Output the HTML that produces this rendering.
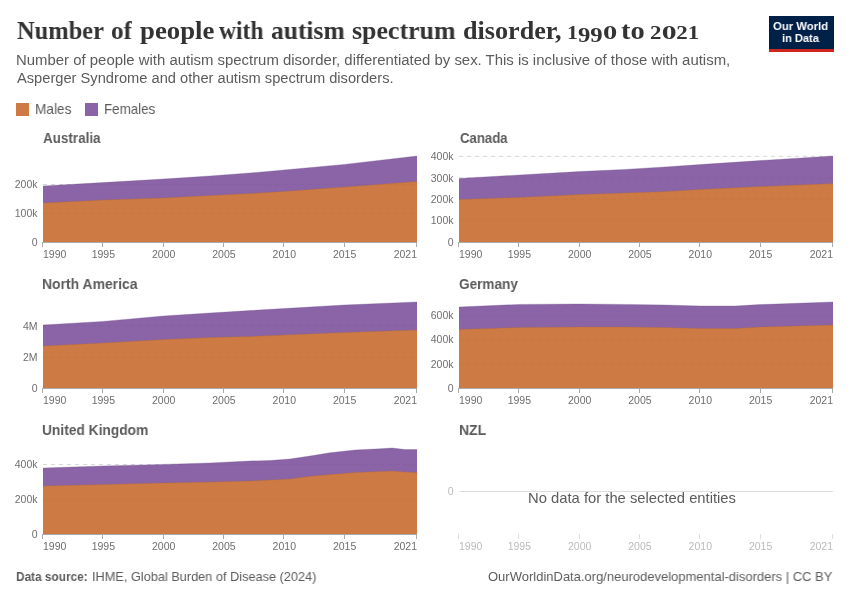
<!DOCTYPE html>
<html><head><meta charset="utf-8">
<style>
html,body{margin:0;padding:0;background:#fff;}
body{width:850px;height:600px;position:relative;overflow:hidden;font-family:"Liberation Sans",sans-serif;}
.abs{position:absolute;white-space:nowrap;transform-origin:0 0;will-change:transform;}
svg{position:absolute;left:0;top:0;will-change:transform;}
.title{font-family:"Liberation Serif",serif;font-weight:bold;font-size:26px;line-height:32px;color:#333333;}
.os{font-size:19.5px;}
.os9{font-size:22px;position:relative;top:3px;}
.os0{display:inline-block;font-size:19.5px;transform:scaleX(1.3);transform-origin:0 0;margin-right:2.9px;}
.sub{font-size:14px;line-height:18px;color:#5b5b5b;}
.leg{font-size:14.5px;line-height:16px;color:#5b5b5b;}
.sw{position:absolute;top:103px;width:13px;height:13px;}
#logo{left:769px;top:16px;width:65px;height:33px;background:#002147;border-bottom:3px solid #ce261e;color:#fff;font-weight:bold;font-size:11px;line-height:12px;text-align:center;}
.logot{font-size:11.8px;line-height:14px;color:#fff;font-weight:bold;}
.foot{font-size:13px;line-height:16px;color:#5b5b5b;}
.ax{font-family:"Liberation Sans",sans-serif;font-size:10.5px;fill:#6e6e6e;}
.ax.light{fill:#bbbbbb;}
.ft{font-size:15px;line-height:18px;font-weight:bold;color:#5b5b5b;}
.nd{font-size:14.2px;line-height:18px;color:#5b5b5b;}
</style></head>
<body>
<svg width="850" height="600" viewBox="0 0 850 600">
<line x1="43" y1="213" x2="417" y2="213" stroke="#dddddd" stroke-width="1" stroke-dasharray="4,4"/>
<line x1="43" y1="184.5" x2="417" y2="184.5" stroke="#dddddd" stroke-width="1" stroke-dasharray="4,4"/>
<line x1="459" y1="220.6" x2="833" y2="220.6" stroke="#dddddd" stroke-width="1" stroke-dasharray="4,4"/>
<line x1="459" y1="199.2" x2="833" y2="199.2" stroke="#dddddd" stroke-width="1" stroke-dasharray="4,4"/>
<line x1="459" y1="177.8" x2="833" y2="177.8" stroke="#dddddd" stroke-width="1" stroke-dasharray="4,4"/>
<line x1="459" y1="156.3" x2="833" y2="156.3" stroke="#dddddd" stroke-width="1" stroke-dasharray="4,4"/>
<line x1="43" y1="357" x2="417" y2="357" stroke="#dddddd" stroke-width="1" stroke-dasharray="4,4"/>
<line x1="43" y1="325.75" x2="417" y2="325.75" stroke="#dddddd" stroke-width="1" stroke-dasharray="4,4"/>
<line x1="459" y1="364" x2="833" y2="364" stroke="#dddddd" stroke-width="1" stroke-dasharray="4,4"/>
<line x1="459" y1="339.5" x2="833" y2="339.5" stroke="#dddddd" stroke-width="1" stroke-dasharray="4,4"/>
<line x1="459" y1="315.5" x2="833" y2="315.5" stroke="#dddddd" stroke-width="1" stroke-dasharray="4,4"/>
<line x1="43" y1="499.4" x2="417" y2="499.4" stroke="#dddddd" stroke-width="1" stroke-dasharray="4,4"/>
<line x1="43" y1="464.4" x2="417" y2="464.4" stroke="#dddddd" stroke-width="1" stroke-dasharray="4,4"/>
<polygon points="43,242 43,186 103,182.6 163.4,179 210,176 250,173 284,170 344.4,164.4 417,156 417,242" fill="#8a64a6"/>
<polygon points="43,242 43,203 103,200 163.4,198 210,195.6 250,193.6 284,191.4 344.4,187 417,181.6 417,242" fill="#cd7a45"/>
<line x1="43" y1="213" x2="417" y2="213" stroke="#000" stroke-opacity="0.035" stroke-width="1" stroke-dasharray="4,4"/>
<line x1="43" y1="184.5" x2="417" y2="184.5" stroke="#000" stroke-opacity="0.035" stroke-width="1" stroke-dasharray="4,4"/>
<polyline points="43,203 103,200 163.4,198 210,195.6 250,193.6 284,191.4 344.4,187 417,181.6" fill="none" stroke="#a9643a" stroke-opacity="0.5" stroke-width="0.6"/>
<polyline points="43,186 103,182.6 163.4,179 210,176 250,173 284,170 344.4,164.4 417,156" fill="none" stroke="#6e4f88" stroke-opacity="0.5" stroke-width="0.6"/>
<line x1="43" y1="242.5" x2="417" y2="242.5" stroke="#aaaaaa" stroke-width="1"/>
<line x1="42.5" y1="242" x2="42.5" y2="247" stroke="#aaaaaa" stroke-width="1"/>
<text x="43" y="257.7" text-anchor="start" class="ax">1990</text>
<line x1="102.5" y1="242" x2="102.5" y2="247" stroke="#aaaaaa" stroke-width="1"/>
<text x="103.32" y="257.7" text-anchor="middle" class="ax">1995</text>
<line x1="163.5" y1="242" x2="163.5" y2="247" stroke="#aaaaaa" stroke-width="1"/>
<text x="163.65" y="257.7" text-anchor="middle" class="ax">2000</text>
<line x1="223.5" y1="242" x2="223.5" y2="247" stroke="#aaaaaa" stroke-width="1"/>
<text x="223.97" y="257.7" text-anchor="middle" class="ax">2005</text>
<line x1="283.5" y1="242" x2="283.5" y2="247" stroke="#aaaaaa" stroke-width="1"/>
<text x="284.29" y="257.7" text-anchor="middle" class="ax">2010</text>
<line x1="344.5" y1="242" x2="344.5" y2="247" stroke="#aaaaaa" stroke-width="1"/>
<text x="344.61" y="257.7" text-anchor="middle" class="ax">2015</text>
<line x1="416.5" y1="242" x2="416.5" y2="247" stroke="#aaaaaa" stroke-width="1"/>
<text x="417" y="257.7" text-anchor="end" class="ax">2021</text>
<text x="37.5" y="245.8" text-anchor="end" class="ax">0</text>
<text x="37.5" y="216.8" text-anchor="end" class="ax">100k</text>
<text x="37.5" y="188.3" text-anchor="end" class="ax">200k</text>
<polygon points="459,242 459,178.4 519.4,175 579.4,171.6 625,169.4 665,167 700.2,164.6 760.4,160.6 833,156 833,242" fill="#8a64a6"/>
<polygon points="459,242 459,199.4 519.4,197.4 579.4,194.6 625,193 665,191.6 700.2,189.4 760.4,186.6 833,183.6 833,242" fill="#cd7a45"/>
<line x1="459" y1="220.6" x2="833" y2="220.6" stroke="#000" stroke-opacity="0.035" stroke-width="1" stroke-dasharray="4,4"/>
<line x1="459" y1="199.2" x2="833" y2="199.2" stroke="#000" stroke-opacity="0.035" stroke-width="1" stroke-dasharray="4,4"/>
<line x1="459" y1="177.8" x2="833" y2="177.8" stroke="#000" stroke-opacity="0.035" stroke-width="1" stroke-dasharray="4,4"/>
<line x1="459" y1="156.3" x2="833" y2="156.3" stroke="#000" stroke-opacity="0.035" stroke-width="1" stroke-dasharray="4,4"/>
<polyline points="459,199.4 519.4,197.4 579.4,194.6 625,193 665,191.6 700.2,189.4 760.4,186.6 833,183.6" fill="none" stroke="#a9643a" stroke-opacity="0.5" stroke-width="0.6"/>
<polyline points="459,178.4 519.4,175 579.4,171.6 625,169.4 665,167 700.2,164.6 760.4,160.6 833,156" fill="none" stroke="#6e4f88" stroke-opacity="0.5" stroke-width="0.6"/>
<line x1="459" y1="242.5" x2="833" y2="242.5" stroke="#aaaaaa" stroke-width="1"/>
<line x1="458.5" y1="242" x2="458.5" y2="247" stroke="#aaaaaa" stroke-width="1"/>
<text x="459" y="257.7" text-anchor="start" class="ax">1990</text>
<line x1="518.5" y1="242" x2="518.5" y2="247" stroke="#aaaaaa" stroke-width="1"/>
<text x="519.32" y="257.7" text-anchor="middle" class="ax">1995</text>
<line x1="579.5" y1="242" x2="579.5" y2="247" stroke="#aaaaaa" stroke-width="1"/>
<text x="579.65" y="257.7" text-anchor="middle" class="ax">2000</text>
<line x1="639.5" y1="242" x2="639.5" y2="247" stroke="#aaaaaa" stroke-width="1"/>
<text x="639.97" y="257.7" text-anchor="middle" class="ax">2005</text>
<line x1="699.5" y1="242" x2="699.5" y2="247" stroke="#aaaaaa" stroke-width="1"/>
<text x="700.29" y="257.7" text-anchor="middle" class="ax">2010</text>
<line x1="760.5" y1="242" x2="760.5" y2="247" stroke="#aaaaaa" stroke-width="1"/>
<text x="760.61" y="257.7" text-anchor="middle" class="ax">2015</text>
<line x1="832.5" y1="242" x2="832.5" y2="247" stroke="#aaaaaa" stroke-width="1"/>
<text x="833" y="257.7" text-anchor="end" class="ax">2021</text>
<text x="453.5" y="245.8" text-anchor="end" class="ax">0</text>
<text x="453.5" y="224.4" text-anchor="end" class="ax">100k</text>
<text x="453.5" y="203" text-anchor="end" class="ax">200k</text>
<text x="453.5" y="181.6" text-anchor="end" class="ax">300k</text>
<text x="453.5" y="160.1" text-anchor="end" class="ax">400k</text>
<polygon points="43,388 43,325 103,321.4 163.4,316 210,313 250,310.6 284,308.6 344.4,305 417,302 417,388" fill="#8a64a6"/>
<polygon points="43,388 43,346 103,343 163.4,339.6 210,337.6 250,336.4 284,335 344.4,332.4 417,330 417,388" fill="#cd7a45"/>
<line x1="43" y1="357" x2="417" y2="357" stroke="#000" stroke-opacity="0.035" stroke-width="1" stroke-dasharray="4,4"/>
<line x1="43" y1="325.75" x2="417" y2="325.75" stroke="#000" stroke-opacity="0.035" stroke-width="1" stroke-dasharray="4,4"/>
<polyline points="43,346 103,343 163.4,339.6 210,337.6 250,336.4 284,335 344.4,332.4 417,330" fill="none" stroke="#a9643a" stroke-opacity="0.5" stroke-width="0.6"/>
<polyline points="43,325 103,321.4 163.4,316 210,313 250,310.6 284,308.6 344.4,305 417,302" fill="none" stroke="#6e4f88" stroke-opacity="0.5" stroke-width="0.6"/>
<line x1="43" y1="388.5" x2="417" y2="388.5" stroke="#aaaaaa" stroke-width="1"/>
<line x1="42.5" y1="388" x2="42.5" y2="393" stroke="#aaaaaa" stroke-width="1"/>
<text x="43" y="403.7" text-anchor="start" class="ax">1990</text>
<line x1="102.5" y1="388" x2="102.5" y2="393" stroke="#aaaaaa" stroke-width="1"/>
<text x="103.32" y="403.7" text-anchor="middle" class="ax">1995</text>
<line x1="163.5" y1="388" x2="163.5" y2="393" stroke="#aaaaaa" stroke-width="1"/>
<text x="163.65" y="403.7" text-anchor="middle" class="ax">2000</text>
<line x1="223.5" y1="388" x2="223.5" y2="393" stroke="#aaaaaa" stroke-width="1"/>
<text x="223.97" y="403.7" text-anchor="middle" class="ax">2005</text>
<line x1="283.5" y1="388" x2="283.5" y2="393" stroke="#aaaaaa" stroke-width="1"/>
<text x="284.29" y="403.7" text-anchor="middle" class="ax">2010</text>
<line x1="344.5" y1="388" x2="344.5" y2="393" stroke="#aaaaaa" stroke-width="1"/>
<text x="344.61" y="403.7" text-anchor="middle" class="ax">2015</text>
<line x1="416.5" y1="388" x2="416.5" y2="393" stroke="#aaaaaa" stroke-width="1"/>
<text x="417" y="403.7" text-anchor="end" class="ax">2021</text>
<text x="37.5" y="391.8" text-anchor="end" class="ax">0</text>
<text x="37.5" y="360.8" text-anchor="end" class="ax">2M</text>
<text x="37.5" y="329.55" text-anchor="end" class="ax">4M</text>
<polygon points="459,388 459,307 519,304.4 579,304 625,304.4 665,305 700,306 735,306 760,304.6 833,302 833,388" fill="#8a64a6"/>
<polygon points="459,388 459,329.4 519,327.4 579,327 625,327 665,327.6 700,328.4 735,328.6 760,327 833,325 833,388" fill="#cd7a45"/>
<line x1="459" y1="364" x2="833" y2="364" stroke="#000" stroke-opacity="0.035" stroke-width="1" stroke-dasharray="4,4"/>
<line x1="459" y1="339.5" x2="833" y2="339.5" stroke="#000" stroke-opacity="0.035" stroke-width="1" stroke-dasharray="4,4"/>
<line x1="459" y1="315.5" x2="833" y2="315.5" stroke="#000" stroke-opacity="0.035" stroke-width="1" stroke-dasharray="4,4"/>
<polyline points="459,329.4 519,327.4 579,327 625,327 665,327.6 700,328.4 735,328.6 760,327 833,325" fill="none" stroke="#a9643a" stroke-opacity="0.5" stroke-width="0.6"/>
<polyline points="459,307 519,304.4 579,304 625,304.4 665,305 700,306 735,306 760,304.6 833,302" fill="none" stroke="#6e4f88" stroke-opacity="0.5" stroke-width="0.6"/>
<line x1="459" y1="388.5" x2="833" y2="388.5" stroke="#aaaaaa" stroke-width="1"/>
<line x1="458.5" y1="388" x2="458.5" y2="393" stroke="#aaaaaa" stroke-width="1"/>
<text x="459" y="403.7" text-anchor="start" class="ax">1990</text>
<line x1="518.5" y1="388" x2="518.5" y2="393" stroke="#aaaaaa" stroke-width="1"/>
<text x="519.32" y="403.7" text-anchor="middle" class="ax">1995</text>
<line x1="579.5" y1="388" x2="579.5" y2="393" stroke="#aaaaaa" stroke-width="1"/>
<text x="579.65" y="403.7" text-anchor="middle" class="ax">2000</text>
<line x1="639.5" y1="388" x2="639.5" y2="393" stroke="#aaaaaa" stroke-width="1"/>
<text x="639.97" y="403.7" text-anchor="middle" class="ax">2005</text>
<line x1="699.5" y1="388" x2="699.5" y2="393" stroke="#aaaaaa" stroke-width="1"/>
<text x="700.29" y="403.7" text-anchor="middle" class="ax">2010</text>
<line x1="760.5" y1="388" x2="760.5" y2="393" stroke="#aaaaaa" stroke-width="1"/>
<text x="760.61" y="403.7" text-anchor="middle" class="ax">2015</text>
<line x1="832.5" y1="388" x2="832.5" y2="393" stroke="#aaaaaa" stroke-width="1"/>
<text x="833" y="403.7" text-anchor="end" class="ax">2021</text>
<text x="453.5" y="391.8" text-anchor="end" class="ax">0</text>
<text x="453.5" y="367.8" text-anchor="end" class="ax">200k</text>
<text x="453.5" y="343.3" text-anchor="end" class="ax">400k</text>
<text x="453.5" y="319.3" text-anchor="end" class="ax">600k</text>
<polygon points="43,534 43,468 103,466 163.4,464.4 210,463 250,461 270,460.5 290,459 310,456 330,452.8 355,450 380,448.8 392,448 405,449.5 417,449.5 417,534" fill="#8a64a6"/>
<polygon points="43,534 43,486 103,484.6 163.4,483 210,482 250,481 270,480 290,479 310,476.2 330,474.5 355,472.5 380,471.5 392,471 405,472 417,472.5 417,534" fill="#cd7a45"/>
<line x1="43" y1="499.4" x2="417" y2="499.4" stroke="#000" stroke-opacity="0.035" stroke-width="1" stroke-dasharray="4,4"/>
<line x1="43" y1="464.4" x2="417" y2="464.4" stroke="#000" stroke-opacity="0.035" stroke-width="1" stroke-dasharray="4,4"/>
<polyline points="43,486 103,484.6 163.4,483 210,482 250,481 270,480 290,479 310,476.2 330,474.5 355,472.5 380,471.5 392,471 405,472 417,472.5" fill="none" stroke="#a9643a" stroke-opacity="0.5" stroke-width="0.6"/>
<polyline points="43,468 103,466 163.4,464.4 210,463 250,461 270,460.5 290,459 310,456 330,452.8 355,450 380,448.8 392,448 405,449.5 417,449.5" fill="none" stroke="#6e4f88" stroke-opacity="0.5" stroke-width="0.6"/>
<line x1="43" y1="534.5" x2="417" y2="534.5" stroke="#aaaaaa" stroke-width="1"/>
<line x1="42.5" y1="534" x2="42.5" y2="539" stroke="#aaaaaa" stroke-width="1"/>
<text x="43" y="549.7" text-anchor="start" class="ax">1990</text>
<line x1="102.5" y1="534" x2="102.5" y2="539" stroke="#aaaaaa" stroke-width="1"/>
<text x="103.32" y="549.7" text-anchor="middle" class="ax">1995</text>
<line x1="163.5" y1="534" x2="163.5" y2="539" stroke="#aaaaaa" stroke-width="1"/>
<text x="163.65" y="549.7" text-anchor="middle" class="ax">2000</text>
<line x1="223.5" y1="534" x2="223.5" y2="539" stroke="#aaaaaa" stroke-width="1"/>
<text x="223.97" y="549.7" text-anchor="middle" class="ax">2005</text>
<line x1="283.5" y1="534" x2="283.5" y2="539" stroke="#aaaaaa" stroke-width="1"/>
<text x="284.29" y="549.7" text-anchor="middle" class="ax">2010</text>
<line x1="344.5" y1="534" x2="344.5" y2="539" stroke="#aaaaaa" stroke-width="1"/>
<text x="344.61" y="549.7" text-anchor="middle" class="ax">2015</text>
<line x1="416.5" y1="534" x2="416.5" y2="539" stroke="#aaaaaa" stroke-width="1"/>
<text x="417" y="549.7" text-anchor="end" class="ax">2021</text>
<text x="37.5" y="537.8" text-anchor="end" class="ax">0</text>
<text x="37.5" y="503.2" text-anchor="end" class="ax">200k</text>
<text x="37.5" y="468.2" text-anchor="end" class="ax">400k</text>
<line x1="459" y1="491.5" x2="833" y2="491.5" stroke="#dddddd" stroke-width="1"/>
<text x="453.5" y="494.8" text-anchor="end" class="ax light">0</text>
<line x1="458.5" y1="534" x2="458.5" y2="539" stroke="#dddddd" stroke-width="1"/>
<text x="459" y="549.7" text-anchor="start" class="ax light">1990</text>
<line x1="518.5" y1="534" x2="518.5" y2="539" stroke="#dddddd" stroke-width="1"/>
<text x="519.32" y="549.7" text-anchor="middle" class="ax light">1995</text>
<line x1="579.5" y1="534" x2="579.5" y2="539" stroke="#dddddd" stroke-width="1"/>
<text x="579.65" y="549.7" text-anchor="middle" class="ax light">2000</text>
<line x1="639.5" y1="534" x2="639.5" y2="539" stroke="#dddddd" stroke-width="1"/>
<text x="639.97" y="549.7" text-anchor="middle" class="ax light">2005</text>
<line x1="699.5" y1="534" x2="699.5" y2="539" stroke="#dddddd" stroke-width="1"/>
<text x="700.29" y="549.7" text-anchor="middle" class="ax light">2010</text>
<line x1="760.5" y1="534" x2="760.5" y2="539" stroke="#dddddd" stroke-width="1"/>
<text x="760.61" y="549.7" text-anchor="middle" class="ax light">2015</text>
<line x1="832.5" y1="534" x2="832.5" y2="539" stroke="#dddddd" stroke-width="1"/>
<text x="833" y="549.7" text-anchor="end" class="ax light">2021</text>
</svg>
<div class="sw" style="left:16px;background:#cd7a45"></div>
<div class="sw" style="left:85px;background:#8a64a6"></div>
<div id="logo" class="abs"></div>
<div id="t0" class="abs title" style="left:17px;top:14.7px;transform:scaleX(0.9402);">Number</div>
<div id="t1" class="abs title" style="left:111.42px;top:14.7px;transform:scaleX(0.9679);">of</div>
<div id="t2" class="abs title" style="left:139.59px;top:14.7px;transform:scaleX(1.0293);">people</div>
<div id="t3" class="abs title" style="left:219.04px;top:14.7px;transform:scaleX(0.9043);">with</div>
<div id="t4" class="abs title" style="left:271.2px;top:14.7px;transform:scaleX(0.9812);">autism</div>
<div id="t5" class="abs title" style="left:351.59px;top:14.7px;transform:scaleX(0.9964);">spectrum</div>
<div id="t6" class="abs title" style="left:462.59px;top:14.7px;transform:scaleX(1.0052);">disorder,</div>
<div id="t7" class="abs title" style="left:566.99px;top:14.7px;transform:scaleX(1.1252);"><span class="os">1</span><span class="os9">9</span><span class="os9">9</span><span class="os0">0</span></div>
<div id="t8" class="abs title" style="left:621px;top:14.7px;transform:scaleX(1.0952);">to</div>
<div id="t9" class="abs title" style="left:649.82px;top:14.7px;transform:scaleX(1.1732);"><span class="os">2</span><span class="os0">0</span><span class="os">2</span><span class="os">1</span></div>
<div id="sub1" class="abs sub" style="left:15.93px;top:51px;transform:scaleX(1.0656);">Number of people with autism spectrum disorder, differentiated by sex. This is inclusive of those with autism,</div>
<div id="sub2" class="abs sub" style="left:17px;top:69px;transform:scaleX(1.0475);">Asperger Syndrome and other autism spectrum disorders.</div>
<div id="leg1" class="abs leg" style="left:35.26px;top:101px;transform:scaleX(0.9413);">Males</div>
<div id="leg2" class="abs leg" style="left:103.57px;top:101px;transform:scaleX(0.9225);">Females</div>
<div id="ft0" class="abs ft" style="left:42.61px;top:128.84px;transform:scaleX(0.8969);">Australia</div>
<div id="ft1" class="abs ft" style="left:459.61px;top:128.84px;transform:scaleX(0.8779);">Canada</div>
<div id="ft2" class="abs ft" style="left:42.25px;top:274.84px;transform:scaleX(0.9293);">North America</div>
<div id="ft3" class="abs ft" style="left:458.61px;top:274.84px;transform:scaleX(0.9049);">Germany</div>
<div id="ft4" class="abs ft" style="left:42.27px;top:420.84px;transform:scaleX(0.9174);">United Kingdom</div>
<div id="ft5" class="abs ft" style="left:458.97px;top:420.84px;transform:scaleX(0.933);">NZL</div>
<div id="logo1" class="abs logot" style="left:773.41px;top:19px;transform:scaleX(0.958);">Our World</div>
<div id="logo2" class="abs logot" style="left:781.89px;top:30.7px;transform:scaleX(0.9386);">in Data</div>
<div id="nd" class="abs nd" style="left:528.37px;top:489px;transform:scaleX(1.0424);">No data for the selected entities</div>
<div id="foot1a" class="abs foot" style="left:16.09px;top:569px;transform:scaleX(0.9091);font-weight:bold;">Data source:</div>
<div id="foot1b" class="abs foot" style="left:91.82px;top:569px;transform:scaleX(0.9795);">IHME, Global Burden of Disease (2024)</div>
<div id="foot2" class="abs foot" style="left:487.5px;top:569px;transform:scaleX(0.9985);">OurWorldinData.org/neurodevelopmental-disorders | CC BY</div>
</body></html>
